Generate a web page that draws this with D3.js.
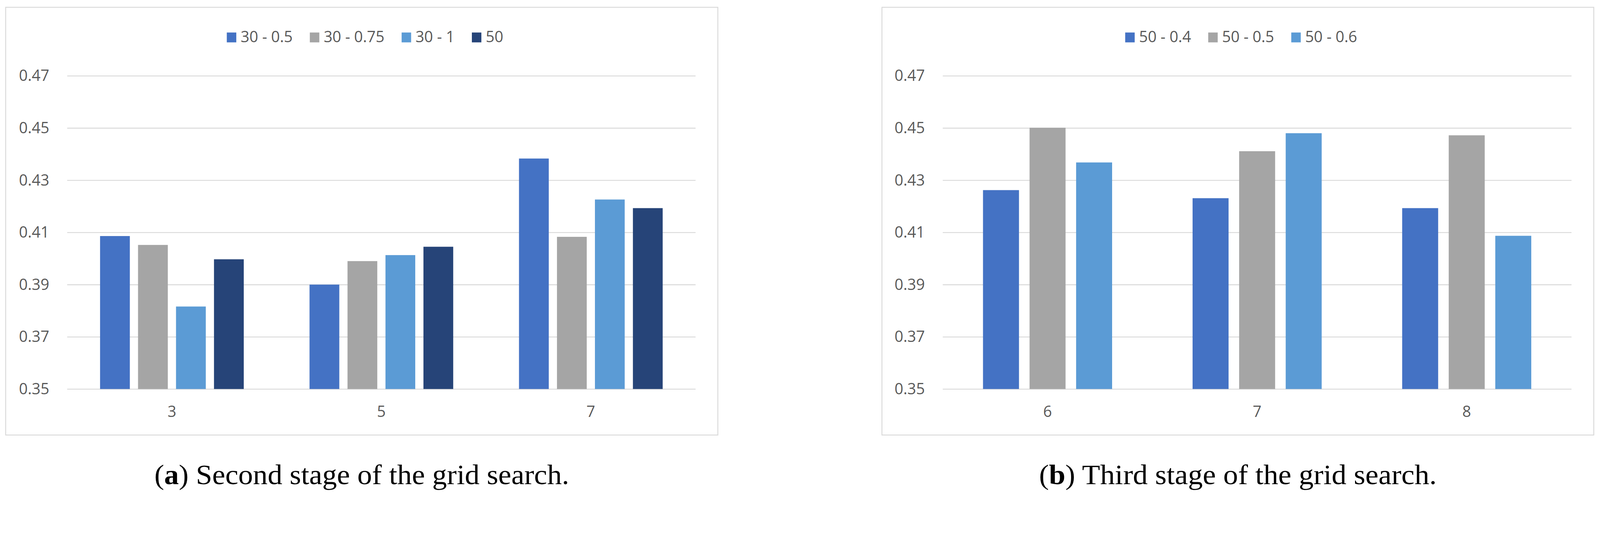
<!DOCTYPE html>
<html>
<head>
<meta charset="utf-8">
<script src="https://cdn.jsdelivr.net/npm/d3@7"></script>
<style>
  html, body { margin: 0; padding: 0; background: #fff; overflow: hidden; }
  .grid svg { display: block; }
</style>
</head>
<body>
<div class="grid"></div>
<script>
const width = 4382
const height = 1364

// y axis is shared by both panels
const yTicks = [0.35, 0.37, 0.39, 0.41, 0.43, 0.45, 0.47];

// panel (a) - second stage
const groupsA = ["3", "5", "7"];
const seriesA = ["30 - 0.5", "30 - 0.75", "30 - 1", "50"];
const valuesA = [
  [0.4086, 0.3900, 0.4383],
  [0.4052, 0.3990, 0.4083],
  [0.3816, 0.4013, 0.4226],
  [0.3997, 0.4045, 0.4193]
];
const colorsA = ["#4472C4", "#A5A5A5", "#5B9BD5", "#264478"];

// panel (b) - third stage
const groupsB = ["6", "7", "8"];
const seriesB = ["50 - 0.4", "50 - 0.5", "50 - 0.6"];
const valuesB = [
  [0.4262, 0.4231, 0.4193],
  [0.4501, 0.4411, 0.4472],
  [0.4368, 0.4480, 0.4087]
];
const colorsB = ["#4472C4", "#A5A5A5", "#5B9BD5"];

const svg = d3.create("svg")
  .attr("viewBox", [0, 0, width, height])
  .attr("preserveAspectRatio", "xMinYMin meet")
  .attr("style", "width: 100%; height: auto; background: #fff;");

// attach first so text can be measured
document.querySelector('.grid').append(svg.node())

function drawPanel(opt, groups, series, values, colors, letter, caption) {
  const g = svg.append("g");

  // outer chart frame
  g.append("rect")
    .attr("x", opt.frameX)
    .attr("y", 20)
    .attr("width", opt.frameW)
    .attr("height", 1171)
    .attr("fill", "#fff")
    .attr("stroke", "#D9D9D9")
    .attr("stroke-width", 2.5);

  const y = d3.scaleLinear()
    .domain([0.35, 0.47])
    .range([1065, 207.5]);

  const x0 = d3.scaleBand()
    .domain(groups)
    .range([opt.plotL, opt.plotR])
    .paddingInner(opt.groupPad)
    .paddingOuter(opt.groupPad / 2);

  const x1 = d3.scaleBand()
    .domain(d3.range(series.length))
    .range([0, x0.bandwidth()])
    .paddingInner(opt.barPad);

  // gridlines + tick labels
  const yAxis = g.append("g")
    .attr("transform", `translate(${opt.plotL},0)`)
    .call(d3.axisLeft(y)
      .tickValues(yTicks)
      .tickSize(-(opt.plotR - opt.plotL))
      .tickPadding(49)
      .tickFormat(d3.format(".2f")));
  yAxis.select(".domain").remove();
  yAxis.selectAll(".tick line")
    .attr("stroke", "#D9D9D9")
    .attr("stroke-width", 2.5);
  yAxis.selectAll(".tick text")
    .attr("fill", "#595959")
    .attr("dy", "0.33em")
    .style("font", "42px 'Open Sans'");

  // bars
  g.append("g")
    .selectAll("g")
    .data(groups)
    .join("g")
    .attr("transform", d => `translate(${x0(d)},0)`)
    .selectAll("rect")
    .data((d, gi) => series.map((s, si) => ({si, v: values[si][gi]})))
    .join("rect")
    .attr("x", d => x1(d.si))
    .attr("width", x1.bandwidth())
    .attr("y", d => y(d.v))
    .attr("height", d => y(0.35) - y(d.v))
    .attr("fill", d => colors[d.si]);

  // category labels
  const xAxis = g.append("g")
    .attr("transform", `translate(0,${y(0.35)})`)
    .call(d3.axisBottom(x0).tickSize(0).tickPadding(47));
  xAxis.select(".domain").remove();
  xAxis.selectAll(".tick text")
    .attr("fill", "#595959")
    .style("font", "42px 'Open Sans'");

  // legend, centred on the frame
  const leg = g.append("g");
  let lx = 0;
  series.forEach((s, i) => {
    leg.append("rect")
      .attr("x", lx)
      .attr("y", 89)
      .attr("width", 26)
      .attr("height", 27)
      .attr("fill", colors[i]);
    const t = leg.append("text")
      .attr("x", lx + 38)
      .attr("y", 116)
      .attr("fill", "#595959")
      .style("font", "42px 'Open Sans'")
      .text(s);
    lx += 38 + t.node().getComputedTextLength() + 47;
  });
  const legW = lx - 47;
  const frameC = opt.frameX + opt.frameW / 2;
  leg.attr("transform", `translate(${frameC + 9 - legW / 2},0)`);

  // caption under the chart
  const cap = g.append("text")
    .attr("x", frameC)
    .attr("y", 1326)
    .attr("text-anchor", "middle")
    .attr("textLength", opt.capW)
    .attr("lengthAdjust", "spacingAndGlyphs")
    .attr("fill", "#000")
    .style("font", "76px 'Liberation Serif'");
  cap.append("tspan").text("(");
  cap.append("tspan").style("font-weight", "bold").text(letter);
  cap.append("tspan").text(") " + caption);
}

drawPanel({frameX: 15.5, frameW: 1950.5, plotL: 184, plotR: 1905, groupPad: 0.314, barPad: 0.216, capW: 1136},
  groupsA, seriesA, valuesA, colorsA, "a", "Second stage of the grid search.");

drawPanel({frameX: 2415.5, frameW: 1949.5, plotL: 2582, plotR: 4304, groupPad: 0.384, barPad: 0.227, capW: 1089},
  groupsB, seriesB, valuesB, colorsB, "b", "Third stage of the grid search.");
</script>
</body>
</html>
